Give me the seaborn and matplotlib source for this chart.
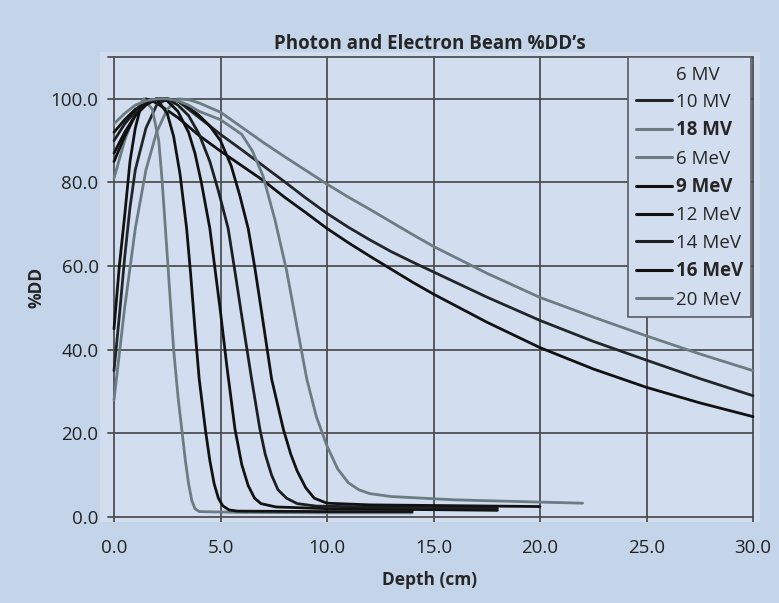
# Photon and Electron Beam %DD's - depth dose curves

import pandas as pd
import matplotlib
matplotlib.use("Agg")
import matplotlib.pyplot as plt
from matplotlib.lines import Line2D
import seaborn as sns

# ---------------------------------------------------------------------------
# data (depth in cm, %DD)
# ---------------------------------------------------------------------------
beams = ['6 MV', '10 MV', '18 MV', '6 MeV', '9 MeV', '12 MeV', '14 MeV', '16 MeV', '20 MeV']

mv6_depth = [0, 0.25, 0.5, 0.75, 1.0, 1.25, 1.5, 2, 3, 4, 5, 6, 7, 8, 9, 10, 11, 12, 13, 14, 15,
             17.5, 20, 22.5, 25, 27.5, 30]
mv6_dd = [45, 60, 72, 85, 93, 98, 100, 99, 95.5, 91.2, 87.5, 84, 80.5, 76.5, 72.8, 69, 65.6, 62.4,
          59.3, 56.2, 53.3, 46.6, 40.5, 35.4, 31, 27.3, 24]

mv10_depth = [0, 0.25, 0.5, 0.75, 1.0, 1.5, 2.0, 2.5, 3, 4, 5, 6, 7, 8, 9, 10, 11, 12, 13, 14, 15,
              17.5, 20, 22.5, 25, 27.5, 30]
mv10_dd = [35, 48, 62, 74, 83, 93, 98.5, 100, 99.5, 95.5, 91.5, 87.8, 84, 80.2, 76.3, 72.6, 69.3,
           66.3, 63.5, 61, 58.6, 52.6, 47, 42, 37.5, 33.1, 29]

mv18_depth = [0, 0.5, 1.0, 1.5, 2.0, 2.5, 3.0, 3.5, 4, 5, 6, 7, 8, 9, 10, 11, 12, 13, 14, 15,
              17.5, 20, 22.5, 25, 27.5, 30]
mv18_dd = [28, 50, 69, 83, 92, 97.5, 100, 99.8, 99, 96.8, 93.2, 89.6, 86.2, 82.9, 79.6, 76.5, 73.6,
           70.6, 67.6, 64.7, 58.3, 52.5, 47.8, 43.3, 39, 35]

mev6_depth = [0, 0.5, 1.0, 1.4, 1.8, 2.1, 2.25, 2.4, 2.6, 2.8, 3.0, 3.18, 3.35, 3.5, 3.65, 3.8, 4.0,
              6, 10, 14]
mev6_dd = [81, 90, 97, 100, 97.5, 90, 81, 70, 55, 40, 29, 21, 13.5, 8, 4, 2.0, 1.3, 1.1, 1.0, 1.0]

mev9_depth = [0, 0.5, 1.0, 1.5, 2.0, 2.5, 2.8, 3.1, 3.41, 3.6, 3.8, 4.0, 4.3, 4.5, 4.7, 4.9, 5.1,
              5.4, 5.8, 10, 14]
mev9_dd = [85, 91, 96, 99, 100, 96.5, 91, 82, 69, 58, 45, 33, 20.5, 13.5, 8, 4.5, 2.7, 1.7, 1.4,
           1.3, 1.3]

mev12_depth = [0, 0.5, 1, 1.5, 2, 2.5, 3, 3.5, 3.8, 4.1, 4.5, 4.8, 5.0, 5.3, 5.68, 6.0, 6.3, 6.6,
               6.9, 7.6, 10, 14, 18]
mev12_dd = [87, 92, 96, 98.5, 100, 99.5, 97, 92, 87, 80, 69, 57, 49, 36, 21, 12.5, 7.5, 4.5, 3.2,
            2.4, 2.0, 1.8, 1.6]

mev14_depth = [0, 0.5, 1, 1.5, 2, 2.5, 3, 3.5, 4, 4.5, 4.9, 5.36, 5.7, 6.0, 6.46, 6.85, 7.1, 7.4,
               7.7, 8.1, 8.6, 9.5, 12, 18]
mev14_dd = [90, 94, 97, 99, 100, 100, 98.5, 96, 91.5, 85, 78, 69, 58, 48, 33, 21, 15, 10, 6.5, 4.5,
            3.2, 2.6, 2.4, 2.1]

mev16_depth = [0, 0.5, 1, 1.5, 2, 2.5, 3, 3.5, 4, 4.5, 5.0, 5.5, 5.9, 6.3, 6.6, 6.9, 7.4, 7.95,
               8.3, 8.6, 9.0, 9.4, 10, 12, 16, 20]
mev16_dd = [92, 95, 97.5, 99, 100, 100, 99.5, 98, 96, 93.5, 90, 84, 77, 69, 60, 50, 33, 21, 15, 11,
            7, 4.5, 3.3, 2.9, 2.7, 2.5]

mev20_depth = [0, 0.5, 1, 1.5, 2, 2.5, 3, 3.5, 4, 5, 6, 6.5, 7, 7.56, 8.1, 8.5, 9.05, 9.5, 10,
               10.5, 11, 11.5, 12.0, 13, 16, 19, 22]
mev20_dd = [94, 96.5, 98.5, 99.5, 100, 100, 99.5, 98.5, 97, 95, 91.5, 87.5, 81.5, 71, 59, 48, 33,
            24, 17, 11.5, 8.2, 6.5, 5.6, 4.9, 4.1, 3.7, 3.3]

x_ticks = [0, 5, 10, 15, 20, 25, 30]
y_ticks = [0, 20, 40, 60, 80, 100]

# ---------------------------------------------------------------------------
# long table for seaborn
# ---------------------------------------------------------------------------
series = [
    (mv6_depth, mv6_dd), (mv10_depth, mv10_dd), (mv18_depth, mv18_dd),
    (mev6_depth, mev6_dd), (mev9_depth, mev9_dd), (mev12_depth, mev12_dd),
    (mev14_depth, mev14_dd), (mev16_depth, mev16_dd), (mev20_depth, mev20_dd),
]
rows = []
for name, (d, v) in zip(beams, series):
    for di, vi in zip(d, v):
        rows.append({'beam': name, 'depth': di, 'dd': vi})
df = pd.DataFrame(rows)

black = '#111111'
gray = '#6c7c82'
palette = {'6 MV': black, '10 MV': '#222629', '18 MV': gray, '6 MeV': gray,
           '9 MeV': black, '12 MeV': black, '14 MeV': '#1c1f21', '16 MeV': black,
           '20 MeV': gray}

# ---------------------------------------------------------------------------
# figure
# ---------------------------------------------------------------------------
sns.set_style('white')
plt.rcParams['font.family'] = ['Open Sans', 'DejaVu Sans']

outer_bg = '#c4d5ea'
inner_bg = '#d2deef'
grid_c = '#4d4f52'

fig = plt.figure(figsize=(7.79, 6.03), dpi=100, facecolor=outer_bg)
ax = fig.add_axes([100 / 779, 1 - 522 / 603, 660 / 779, 470 / 603])
ax.set_facecolor(inner_bg)
for s in ax.spines.values():
    s.set_visible(False)

px_x = 30 / 639.0
px_y = 110 / 460.0
ax.set_xlim(-14 * px_x, 30 + 7 * px_x)
ax.set_ylim(-5 * px_y, 110 + 5 * px_y)

# grid / frame
for xv in x_ticks:
    ax.plot([xv, xv], [-5 * px_y, 110], color=grid_c, lw=1.3, zorder=1)
for yv in y_ticks + [110]:
    ax.plot([-6 * px_x, 30], [yv, yv], color=grid_c, lw=1.3, zorder=1)

sns.lineplot(data=df, x='depth', y='dd', hue='beam', hue_order=beams,
             palette=palette, sort=False, estimator=None, legend=False,
             lw=2.0, ax=ax, zorder=3)

ax.set_xticks(x_ticks)
ax.set_yticks(y_ticks)
ax.set_xticklabels([f'{v:.1f}' for v in x_ticks], fontsize=13.5, color='#222222')
ax.set_yticklabels([f'{v:.1f}' for v in y_ticks], fontsize=13.5, color='#222222')
ax.tick_params(axis='y', length=0, pad=1)
ax.tick_params(axis='x', length=0, pad=12)

ax.set_xlabel('Depth (cm)', fontsize=12.5, fontweight='bold', labelpad=10)
ax.set_ylabel('%DD', fontsize=12.5, fontweight='bold', labelpad=4)
ax.set_title("Photon and Electron Beam %DD\u2019s", fontsize=13.5,
             fontweight='bold', pad=2)

# legend
handles = []
for name in beams:
    if name == '6 MV':
        handles.append(Line2D([], [], color='none', lw=2.2))
    else:
        handles.append(Line2D([], [], color=palette[name], lw=2.2))
leg = ax.legend(handles, beams, loc='upper left', bbox_to_anchor=(0.8, 0.989),
                fontsize=13.5, frameon=True, fancybox=False, borderpad=0.45,
                labelspacing=0.5, handlelength=1.9, handletextpad=0.2,
                borderaxespad=0)
leg.get_frame().set_facecolor(inner_bg)
leg.get_frame().set_edgecolor('#5a5c60')
leg.get_frame().set_linewidth(1.2)
leg.get_frame().set_alpha(1)
leg.set_zorder(5)
for t in leg.get_texts():
    if t.get_text() in ('18 MV', '9 MeV', '16 MeV'):
        t.set_fontweight('bold')

fig.savefig('out.png', dpi=100, facecolor=outer_bg)
